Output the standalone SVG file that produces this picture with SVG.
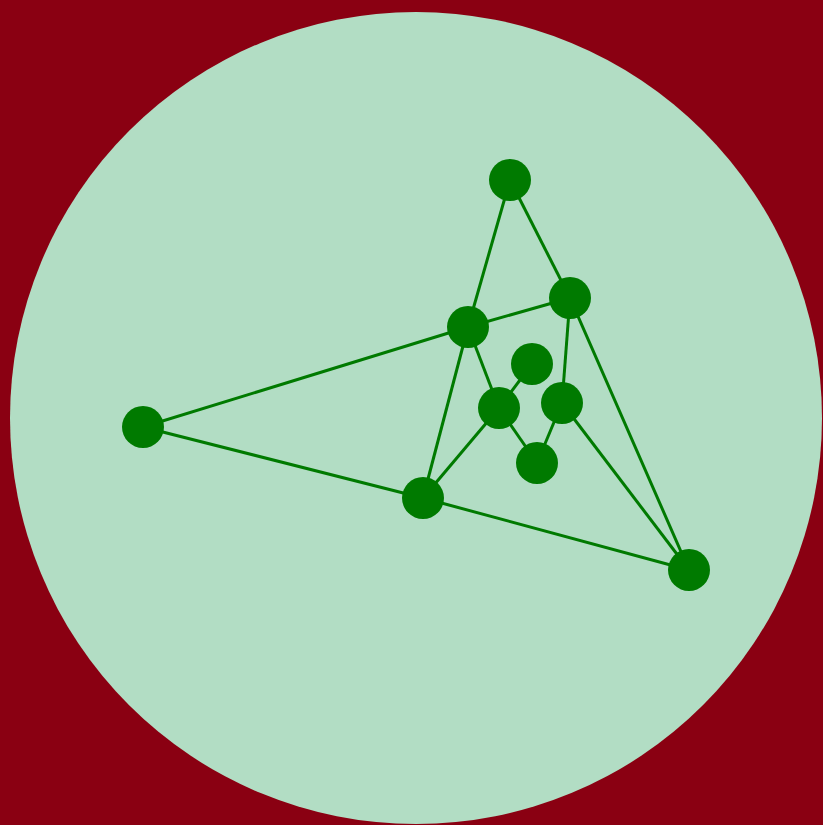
<svg xmlns="http://www.w3.org/2000/svg" width="823" height="825" viewBox="0 0 823 825">
<style>
.e{stroke:#007A00;stroke-width:3;fill:none}
.n{fill:#007A00}
</style>
<rect width="823" height="825" fill="#8A0012"/>
<circle cx="416" cy="418" r="406" fill="#B2DDC4"/>
<g id="edges" class="e">
<line x1="510" y1="180" x2="468" y2="327"/>
<line x1="510" y1="180" x2="570" y2="298"/>
<line x1="468" y1="327" x2="570" y2="298"/>
<line x1="468" y1="327" x2="143" y2="427"/>
<line x1="143" y1="427" x2="423" y2="498"/>
<line x1="423" y1="498" x2="689" y2="570"/>
<line x1="570" y1="298" x2="689" y2="570"/>
<line x1="562" y1="403" x2="689" y2="570"/>
<line x1="468" y1="327" x2="423" y2="498"/>
<line x1="468" y1="327" x2="499" y2="408"/>
<line x1="499" y1="408" x2="423" y2="498"/>
<line x1="499" y1="408" x2="532" y2="364"/>
<line x1="499" y1="408" x2="537" y2="463"/>
<line x1="570" y1="298" x2="562" y2="403"/>
<line x1="562" y1="403" x2="537" y2="463"/>
</g>
<g id="nA"><circle class="n" cx="510" cy="180" r="21"/></g>
<g id="nB"><circle class="n" cx="570" cy="298" r="21"/></g>
<g id="nC"><circle class="n" cx="468" cy="327" r="21"/></g>
<g id="nD"><circle class="n" cx="532" cy="364" r="21"/></g>
<g id="nE"><circle class="n" cx="499" cy="408" r="21"/></g>
<g id="nF"><circle class="n" cx="562" cy="403" r="21"/></g>
<g id="nG"><circle class="n" cx="537" cy="463" r="21"/></g>
<g id="nH"><circle class="n" cx="423" cy="498" r="21"/></g>
<g id="nI"><circle class="n" cx="143" cy="427" r="21"/></g>
<g id="nJ"><circle class="n" cx="689" cy="570" r="21"/></g>
</svg>
